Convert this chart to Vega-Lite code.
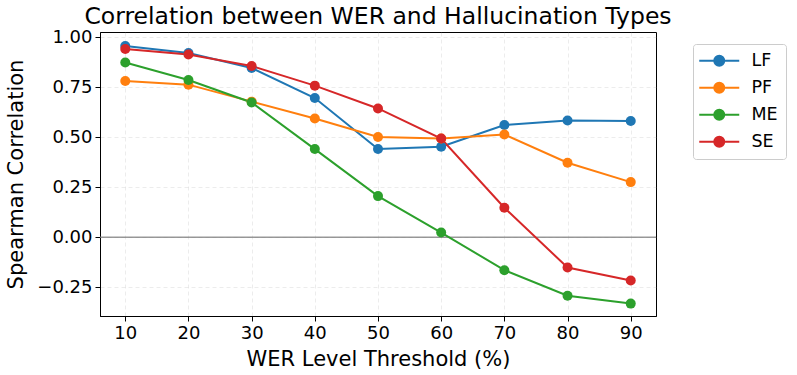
{
  "$schema": "https://vega.github.io/schema/vega-lite/v6.json",
  "autosize": {"type": "none"},
  "padding": {"left": 100, "top": 32, "right": 141, "bottom": 59},
  "width": 556,
  "height": 284,
  "title": {"text": "Correlation between WER and Hallucination Types", "font": "DejaVu Sans", "fontSize": 23.5, "fontWeight": "normal", "color": "#000", "anchor": "middle", "offset": 0},
  "config": {
    "font": "DejaVu Sans",
    "view": {"stroke": "#000", "strokeWidth": 1},
    "axis": {
      "labelFont": "DejaVu Sans", "labelFontSize": 18, "labelColor": "#000", "labelPadding": 3,
      "titleFont": "DejaVu Sans", "titleFontSize": 21, "titleFontWeight": "normal", "titleColor": "#000",
      "domainColor": "#000", "tickColor": "#000", "tickSize": 5,
      "gridColor": "#b0b0b0", "gridOpacity": 0.3, "gridDash": [4, 3], "gridWidth": 0.8
    }
  },
  "datasets": {
    "series": [
      {"threshold": 10, "type": "LF", "corr": 0.955},
      {"threshold": 20, "type": "LF", "corr": 0.92},
      {"threshold": 30, "type": "LF", "corr": 0.845},
      {"threshold": 40, "type": "LF", "corr": 0.695},
      {"threshold": 50, "type": "LF", "corr": 0.44},
      {"threshold": 60, "type": "LF", "corr": 0.452},
      {"threshold": 70, "type": "LF", "corr": 0.56},
      {"threshold": 80, "type": "LF", "corr": 0.583},
      {"threshold": 90, "type": "LF", "corr": 0.58},
      {"threshold": 10, "type": "PF", "corr": 0.78},
      {"threshold": 20, "type": "PF", "corr": 0.762},
      {"threshold": 30, "type": "PF", "corr": 0.677},
      {"threshold": 40, "type": "PF", "corr": 0.593},
      {"threshold": 50, "type": "PF", "corr": 0.50},
      {"threshold": 60, "type": "PF", "corr": 0.493},
      {"threshold": 70, "type": "PF", "corr": 0.513},
      {"threshold": 80, "type": "PF", "corr": 0.372},
      {"threshold": 90, "type": "PF", "corr": 0.275},
      {"threshold": 10, "type": "ME", "corr": 0.873},
      {"threshold": 20, "type": "ME", "corr": 0.785},
      {"threshold": 30, "type": "ME", "corr": 0.673},
      {"threshold": 40, "type": "ME", "corr": 0.44},
      {"threshold": 50, "type": "ME", "corr": 0.205},
      {"threshold": 60, "type": "ME", "corr": 0.023},
      {"threshold": 70, "type": "ME", "corr": -0.165},
      {"threshold": 80, "type": "ME", "corr": -0.293},
      {"threshold": 90, "type": "ME", "corr": -0.332},
      {"threshold": 10, "type": "SE", "corr": 0.94},
      {"threshold": 20, "type": "SE", "corr": 0.913},
      {"threshold": 30, "type": "SE", "corr": 0.855},
      {"threshold": 40, "type": "SE", "corr": 0.757},
      {"threshold": 50, "type": "SE", "corr": 0.643},
      {"threshold": 60, "type": "SE", "corr": 0.493},
      {"threshold": 70, "type": "SE", "corr": 0.147},
      {"threshold": 80, "type": "SE", "corr": -0.152},
      {"threshold": 90, "type": "SE", "corr": -0.217}
    ],
    "zero": [{"y": 0}]
  },
  "layer": [
    {
      "data": {"name": "zero"},
      "mark": {"type": "rule", "color": "#808080", "strokeWidth": 1.5, "opacity": 0.8},
      "encoding": {"y": {"field": "y", "type": "quantitative"}}
    },
    {
      "data": {"name": "series"},
      "mark": {"type": "line", "strokeWidth": 2, "point": {"filled": true, "size": 100, "opacity": 1}},
      "encoding": {
        "x": {"field": "threshold", "type": "quantitative", "scale": {"domain": [6, 94], "nice": false, "zero": false},
              "axis": {"values": [10, 20, 30, 40, 50, 60, 70, 80, 90], "title": "WER Level Threshold (%)", "titlePadding": 6}},
        "y": {"field": "corr", "type": "quantitative", "scale": {"domain": [-0.394, 1.025], "nice": false, "zero": false},
              "axis": {"values": [-0.25, 0, 0.25, 0.5, 0.75, 1.0], "format": ".2f", "title": "Spearman Correlation", "titlePadding": 10}},
        "color": {"field": "type", "type": "nominal", "sort": ["LF", "PF", "ME", "SE"],
                  "scale": {"domain": ["LF", "PF", "ME", "SE"], "range": ["#1f77b4", "#ff7f0e", "#2ca02c", "#d62728"]},
                  "legend": {"title": null, "orient": "none", "legendX": 593, "legendY": 12,
                             "symbolType": "M-2.1,0L5.9,0M2.9,0A1,1,0,1,1,0.9,0A1,1,0,1,1,2.9,0Z",
                             "symbolSize": 100, "symbolStrokeWidth": 2, "symbolOpacity": 1,
                             "labelFontSize": 17.5, "labelFont": "DejaVu Sans", "labelColor": "#000", "labelOffset": 33,
                             "rowPadding": 8, "padding": 8, "strokeColor": "#cccccc", "fillColor": "#ffffff", "cornerRadius": 3,
                             "encode": {"symbols": {"update": {"fill": {"scale": "color", "field": "value"}, "stroke": {"scale": "color", "field": "value"}}}}}}
      }
    }
  ]
}
